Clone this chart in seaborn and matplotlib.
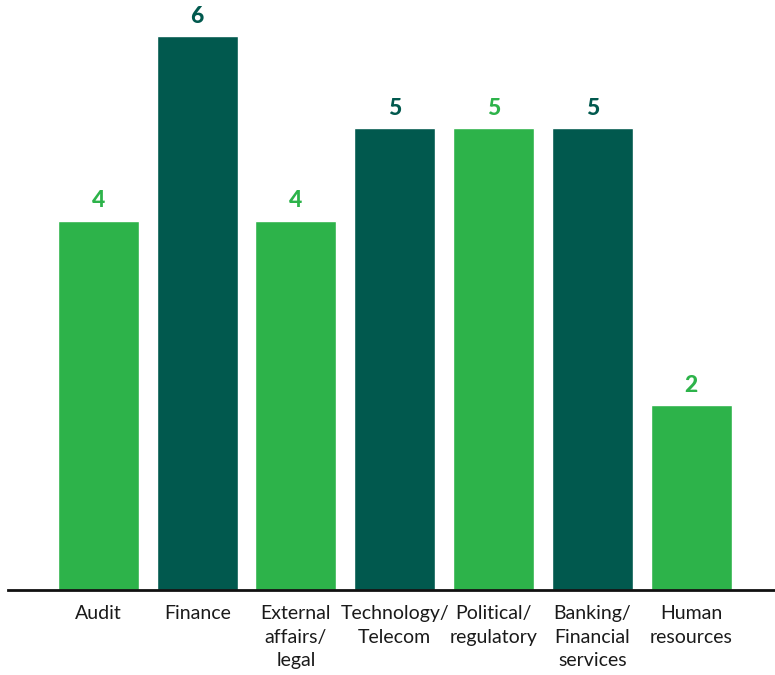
import matplotlib
matplotlib.use("Agg")
import matplotlib.pyplot as plt
import seaborn as sns
import pandas as pd

# chart data
categories = ["Audit", "Finance", "External\naffairs/\nlegal", "Technology/\nTelecom",
              "Political/\nregulatory", "Banking/\nFinancial\nservices", "Human\nresources"]
values = [4, 6, 4, 5, 5, 5, 2]
bar_colors = ["#2DB34A", "#01594E", "#2DB34A", "#01594E", "#2DB34A", "#01594E", "#2DB34A"]

sns.set_style("white")
plt.rcParams["font.family"] = ["Lato", "DejaVu Sans"]

df = pd.DataFrame({"category": categories, "value": values})

fig = plt.figure(figsize=(7.75, 6.75), dpi=100)
ax = fig.add_axes([0.0103, 0.126, 0.9897, 0.874])

sns.barplot(data=df, x="category", y="value", hue="category", palette=bar_colors,
            width=0.82, saturation=1, legend=False, ax=ax)

# value labels above bars, same colour as the bar
for i, (v, c) in enumerate(zip(values, bar_colors)):
    ax.text(i, v + 0.1, str(v), ha="center", va="bottom", fontsize=16.5,
            fontweight="black", color=c)

ax.set_xlim(-0.916, 6.85)
ax.set_ylim(0, 6.39)
ax.set_yticks([])
ax.set_xlabel("")
ax.set_ylabel("")
ax.set_xticks(range(len(categories)))
ax.set_xticklabels(categories, linespacing=1.45, fontsize=14, color="#1a1a1a")
ax.tick_params(axis="x", length=0, pad=11)

for side in ["top", "left", "right"]:
    ax.spines[side].set_visible(False)
ax.spines["bottom"].set_color("#111111")
ax.spines["bottom"].set_linewidth(2)

fig.savefig("out.png", dpi=100)
